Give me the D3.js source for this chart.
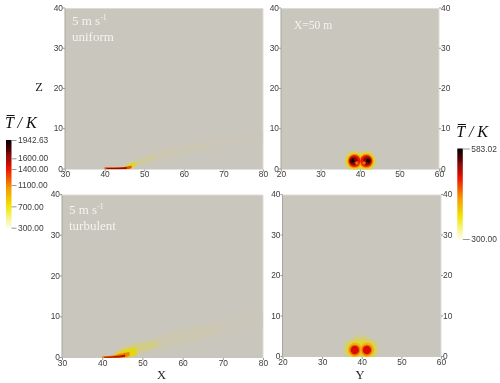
<!DOCTYPE html>
<html>
<head>
<meta charset="utf-8">
<script src="https://cdn.jsdelivr.net/npm/d3@7"></script>
<style>
  html, body { margin: 0; padding: 0; background: #fff; }
  svg { display: block; }
  .tick text { font-family: "Liberation Sans", sans-serif; font-size: 8.4px; fill: #3c3c3c; }
  .tick line { stroke: #999; }
  .domain { display: none; }
  .note { font-family: "Liberation Serif", serif; fill: #f4f3ee; }
  .name { font-family: "Liberation Serif", serif; font-size: 12.5px; fill: #222; }
  .bartitle { font-family: "Liberation Serif", serif; font-style: italic; font-size: 16px; fill: #111; }
</style>
</head>
<body>
<svg id="chart" width="500" height="383"></svg>
<script>
// axis ticks
var xTicks = [30, 40, 50, 60, 70, 80];
var yTicks = [20, 30, 40, 50, 60];
var zTicks = [0, 10, 20, 30, 40];

// colour bars
var leftBarTicks = [1942.63, 1600, 1400, 1100, 700, 300];
var rightBarTicks = [583.02, 300];
var rampStops = [0, 0.08, 0.25, 0.45, 0.67, 0.82, 1];
var rampColors = ["#fdfbe8", "#faf7a0", "#f0e400", "#f59a00", "#ee1400", "#8a0808", "#000000"];

// side view bands: temperature, x stations, lower z, upper z
var uniformBands = [
  [312, [46, 50, 60, 70, 80], [0, 1.2, 3.6, 5.6, 6.6], [0.6, 3.4, 6.4, 8.2, 9.4]],
  [338, [45.5, 50, 60, 67], [0, 1.5, 4.0, 5.7], [1.2, 3.0, 5.5, 6.6]],
  [430, [45, 47, 50, 53], [0, 0.5, 1.7, 2.6], [1.2, 2.1, 2.8, 3.2]],
  [700, [45, 46.5, 47.8], [0, 0.3, 0.8], [0.6, 1.4, 1.7]],
  [1250, [40, 44, 46, 46.8], [0, 0, 0.1, 0.4], [0.55, 0.55, 0.8, 1.0]],
  [1650, [40.5, 44, 45.6], [0.1, 0.1, 0.2], [0.4, 0.45, 0.55]]
];
var turbulentBands = [
  [312, [44, 50, 60, 70, 80], [0, 0.8, 3.0, 5.4, 7.2], [1.2, 4.4, 7.6, 9.6, 11.4]],
  [338, [44, 50, 60, 69], [0, 1.1, 3.5, 5.8], [1.6, 3.9, 6.8, 8.2]],
  [470, [43.5, 46.5, 50, 54], [0, 0.3, 1.6, 2.9], [1.6, 3.1, 3.8, 4.3]],
  [720, [43, 45.5, 48.6], [0, 0.1, 0.7], [0.8, 2.1, 2.6]],
  [1100, [40, 43, 45.5, 46.8], [0, 0, 0.1, 0.5], [0.4, 0.7, 1.3, 1.5]],
  [1550, [40.5, 44, 45.7], [0.05, 0.1, 0.3], [0.3, 0.55, 0.85]]
];

// cross sections: temperature, y, z, radius
var uniformBlobs = [
  [330, 38.6, 2.1, 2.6], [330, 41.6, 2.1, 2.6],
  [372, 38.6, 2.1, 2.15], [372, 41.6, 2.1, 2.15],
  [430, 38.6, 2.1, 1.8], [430, 41.6, 2.1, 1.8],
  [490, 38.6, 2.1, 1.5], [490, 41.6, 2.1, 1.5],
  [535, 38.4, 2.1, 1.05], [535, 41.8, 2.1, 1.05],
  [580, 38.1, 2.2, 0.5], [580, 42.1, 2.2, 0.5],
  [450, 39.2, 1.6, 0.45], [450, 41.0, 1.6, 0.45]
];
var turbulentBlobs = [
  [330, 39.8, 2.3, 3.1], [330, 37.9, 1.9, 2.6], [330, 41.7, 1.9, 2.6],
  [358, 38.3, 1.9, 2.2], [358, 41.3, 1.9, 2.2], [358, 39.8, 2.7, 1.7],
  [400, 38.3, 1.75, 1.8], [400, 41.3, 1.75, 1.8],
  [445, 38.25, 1.7, 1.4], [445, 41.3, 1.7, 1.4],
  [500, 38.25, 1.7, 1.05], [500, 41.3, 1.7, 1.05]
];

var svg = d3.select("#chart");
var fieldColor = "#c9c6bd";
var rampFrac = d3.scaleLinear().domain(rampStops).range(rampColors);
var fieldStops = rampColors.slice();
fieldStops[0] = fieldColor;
fieldStops[1] = "#d0cb95";
fieldStops[2] = "#e2d81a";
var fieldFrac = d3.scaleLinear().domain(rampStops).range(fieldStops);

var defs = svg.append("defs");
function blurFilter(id, dev) {
  defs.append("filter").attr("id", id).attr("x", "-40%").attr("y", "-40%").attr("width", "180%").attr("height", "180%")
    .append("feGaussianBlur").attr("stdDeviation", dev);
}
blurFilter("wide", 1.3);
blurFilter("soft", 0.6);
blurFilter("txt", 0.25);

var root = svg.append("g").attr("filter", "url(#txt)");

function drawPanel(p, idx) {
  var x = d3.scaleLinear().domain(p.xDomain).range([p.left, p.right]);
  var z = d3.scaleLinear().domain([0, 40]).range([p.bottom, p.top]);
  var g = root.append("g");

  g.append("rect").attr("x", p.left).attr("y", p.top)
    .attr("width", p.right - p.left).attr("height", p.bottom - p.top)
    .attr("fill", fieldColor);

  // frame, lighter on top and right like the original
  g.append("path").attr("fill", "none").attr("stroke", "#dedcd6").attr("stroke-width", 1)
    .attr("d", "M" + p.left + "," + p.top + "H" + p.right + "V" + p.bottom);
  g.append("path").attr("fill", "none").attr("stroke", "#a9a69c").attr("stroke-width", 1)
    .attr("d", "M" + p.left + "," + p.top + "V" + p.bottom);

  var clipId = "clip" + idx;
  defs.append("clipPath").attr("id", clipId).append("rect")
    .attr("x", p.left).attr("y", p.top)
    .attr("width", p.right - p.left).attr("height", p.bottom - p.top);

  var clipped = g.append("g").attr("clip-path", "url(#" + clipId + ")");
  var faint = clipped.append("g").attr("filter", "url(#wide)");
  var hot = clipped.append("g").attr("filter", "url(#soft)");

  var fracOf = function (t) { return (t - 300) / (p.tMax - 300); };
  var colorOf = function (t) { return fieldFrac(fracOf(t)); };
  var layerOf = function (t) { return fracOf(t) < 0.2 ? faint : hot; };

  if (p.bands) {
    p.bands.forEach(function (b) {
      var rows = d3.range(b[1].length).map(function (i) {
        return { x: b[1][i], lo: b[2][i], hi: b[3][i] };
      });
      var area = d3.area()
        .x(function (d) { return x(d.x); })
        .y0(function (d) { return z(d.lo); })
        .y1(function (d) { return z(d.hi); })
        .curve(d3.curveMonotoneX);
      layerOf(b[0]).append("path").attr("d", area(rows)).attr("fill", colorOf(b[0]));
    });
  }
  if (p.blobs) {
    p.blobs.forEach(function (d) {
      layerOf(d[0]).append("ellipse")
        .attr("cx", x(d[1]))
        .attr("cy", z(d[2]))
        .attr("rx", x(d[3]) - x(0))
        .attr("ry", z(0) - z(d[3]))
        .attr("fill", colorOf(d[0]));
    });
  }

  g.append("g").attr("transform", "translate(0," + p.bottom + ")")
    .call(d3.axisBottom(x).tickValues(p.xTicks).tickSize(2).tickPadding(0).tickFormat(d3.format("d")));
  g.append("g").attr("transform", "translate(" + p.left + ",-1)")
    .call(d3.axisLeft(z).tickValues(zTicks).tickSize(2).tickPadding(0).tickFormat(d3.format("d")));
  if (p.rightAxis) {
    g.append("g").attr("transform", "translate(" + p.right + ",-1)")
      .call(d3.axisRight(z).tickValues(zTicks).tickSize(2).tickPadding(0).tickFormat(d3.format("d")));
  }

  p.notes.forEach(function (n) {
    var t = root.append("text").attr("class", "note").attr("x", n.x).attr("y", n.y).attr("font-size", n.size);
    t.append("tspan").text(n.text);
    if (n.sup) t.append("tspan").attr("font-size", n.size * 0.6).attr("dy", -n.size * 0.35).text(n.sup);
  });
}

var panels = [
  { left: 65, right: 263, top: 8.5, bottom: 169.5, xDomain: [30, 80], xTicks: xTicks, tMax: 1942.63, bands: uniformBands,
    notes: [{ x: 72, y: 25, size: 13, text: "5 m s", sup: "-1" }, { x: 72, y: 41, size: 13, text: "uniform" }] },
  { left: 281, right: 439, top: 8.5, bottom: 169.5, xDomain: [20, 60], xTicks: yTicks, tMax: 583.02, blobs: uniformBlobs, rightAxis: true,
    notes: [{ x: 294, y: 29, size: 11.5, text: "X=50 m" }] },
  { left: 62, right: 263, top: 195, bottom: 358, xDomain: [30, 80], xTicks: xTicks, tMax: 1942.63, bands: turbulentBands,
    notes: [{ x: 69, y: 214, size: 13, text: "5 m s", sup: "-1" }, { x: 69, y: 230, size: 13, text: "turbulent" }] },
  { left: 282.5, right: 441, top: 195, bottom: 357, xDomain: [20, 60], xTicks: yTicks, tMax: 583.02, blobs: turbulentBlobs, rightAxis: true,
    notes: [] }
];
panels.forEach(drawPanel);

function drawBar(b, idx) {
  var scale = d3.scaleLinear().domain([300, b.max]).range([b.bottom, b.top]);
  var gradId = "ramp" + idx;
  var grad = defs.append("linearGradient").attr("id", gradId)
    .attr("x1", 0).attr("y1", 1).attr("x2", 0).attr("y2", 0);
  rampStops.forEach(function (s) {
    grad.append("stop").attr("offset", s).attr("stop-color", rampFrac(s));
  });
  root.append("rect").attr("x", b.x).attr("y", b.top).attr("width", 5.5)
    .attr("height", b.bottom - b.top).attr("fill", "url(#" + gradId + ")");
  root.append("g").attr("transform", "translate(" + (b.x + 5.5) + ",0)")
    .call(d3.axisRight(scale).tickValues(b.ticks).tickSize(b.tick).tickPadding(1.5).tickFormat(d3.format(".2f")));
  root.append("text").attr("class", "bartitle").attr("x", b.x - 1).attr("y", b.top - 12).text("T\u0305 / K");
}
drawBar({ x: 6, top: 140, bottom: 227.7, max: 1942.63, ticks: leftBarTicks, tick: 5 }, 0);
drawBar({ x: 457.3, top: 148.5, bottom: 239, max: 583.02, ticks: rightBarTicks, tick: 7 }, 1);

root.append("text").attr("class", "name").attr("x", 39).attr("y", 91).attr("text-anchor", "middle").text("Z");
root.append("text").attr("class", "name").attr("x", 161.5).attr("y", 379).attr("text-anchor", "middle").text("X");
root.append("text").attr("class", "name").attr("x", 360).attr("y", 379).attr("text-anchor", "middle").text("Y");
</script>
</body>
</html>
